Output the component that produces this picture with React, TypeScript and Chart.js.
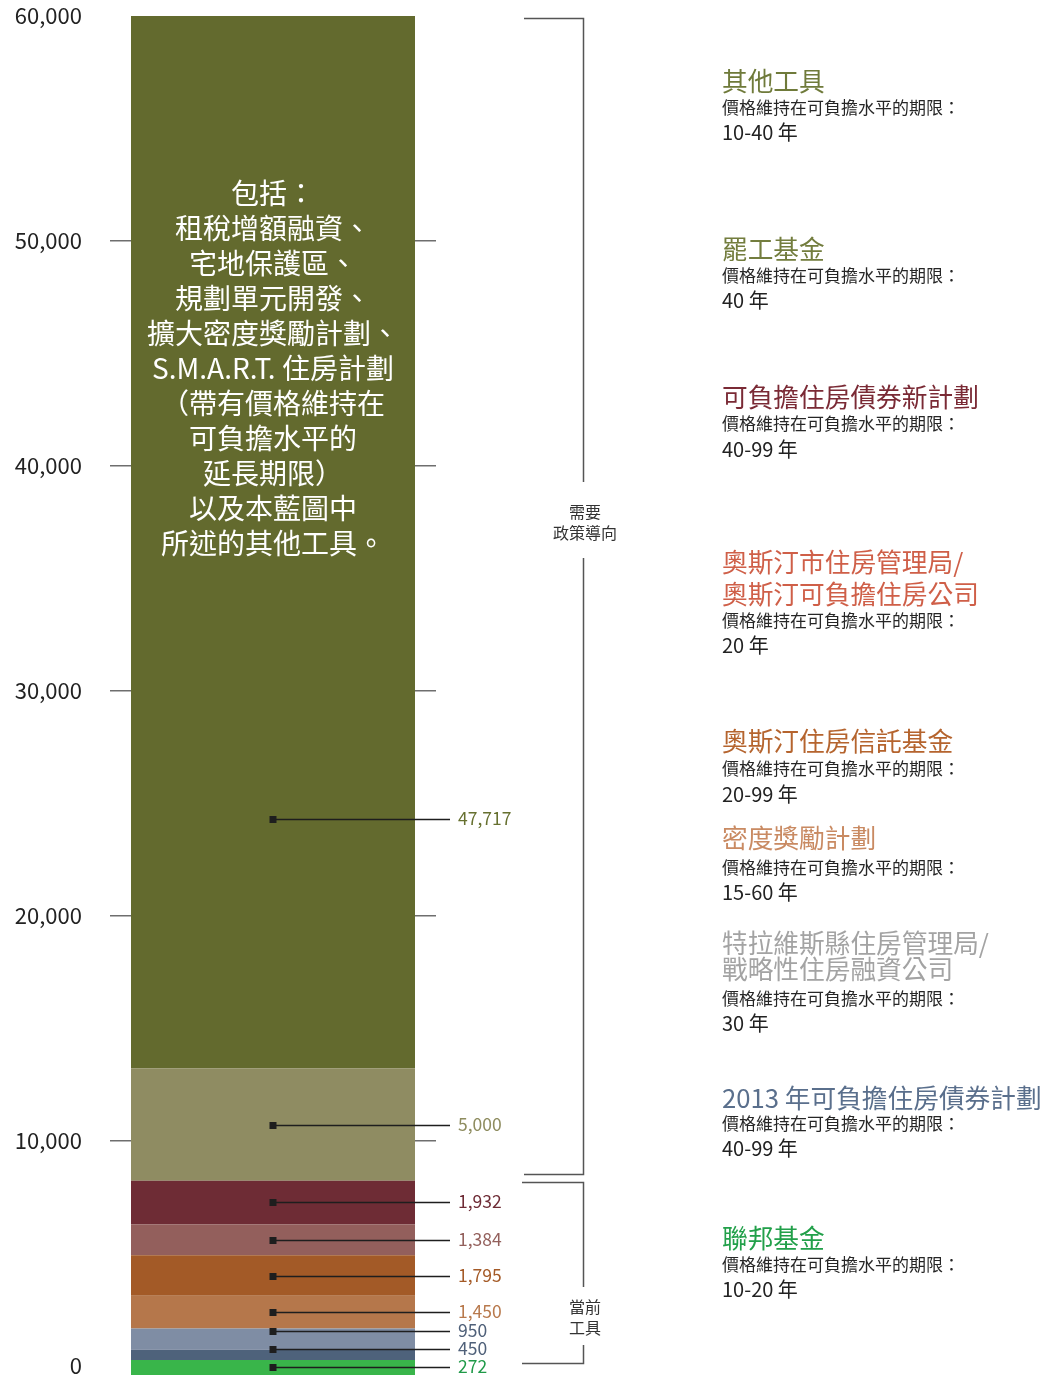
import React, { useEffect, useRef } from "react";
import { Chart, registerables } from "chart.js";

Chart.register(...registerables);

// ---------- data ----------
const SERIES_NAMES = [
  "聯邦基金",
  "2013 年可負擔住房債券計劃",
  "特拉維斯縣住房管理局/戰略性住房融資公司",
  "密度獎勵計劃",
  "奧斯汀住房信託基金",
  "奧斯汀市住房管理局/奧斯汀可負擔住房公司",
  "可負擔住房債券新計劃",
  "罷工基金",
  "其他工具",
];
const SERIES_VALUES = [272, 450, 950, 1450, 1795, 1384, 1932, 5000, 47717];
const CURRENT_TOOL_COUNT = 7; // bottom seven series are "current tools"
const Y_TICKS = [0, 10000, 20000, 30000, 40000, 50000, 60000];

const BAR_NOTE_LINES = [
  "包括：",
  "租稅增額融資、",
  "宅地保護區、",
  "規劃單元開發、",
  "擴大密度獎勵計劃、",
  "S.M.A.R.T. 住房計劃",
  "（帶有價格維持在",
  "可負擔水平的",
  "延長期限）",
  "以及本藍圖中",
  "所述的其他工具。",
];

const LEGEND_TITLES = [
  ["其他工具"],
  ["罷工基金"],
  ["可負擔住房債券新計劃"],
  ["奧斯汀市住房管理局/", "奧斯汀可負擔住房公司"],
  ["奧斯汀住房信託基金"],
  ["密度獎勵計劃"],
  ["特拉維斯縣住房管理局/", "戰略性住房融資公司"],
  ["2013 年可負擔住房債券計劃"],
  ["聯邦基金"],
];
const LEGEND_TERMS = ["10-40 年", "40 年", "40-99 年", "20 年", "20-99 年", "15-60 年", "30 年", "40-99 年", "10-20 年"];
const TERM_PREFIX = "價格維持在可負擔水平的期限：";
const BRACKET_LABELS = [["需要", "政策導向"], ["當前", "工具"]];

// ---------- styles / layout ----------
const FONT = "'Noto Sans CJK TC', 'Noto Sans', sans-serif";
const BAR_COLORS = ["#39b54a", "#4e627b", "#7f8da4", "#b5774b", "#a35a27", "#935f5c", "#6e2c35", "#8f8c62", "#636a2e"];
const LABEL_COLORS = ["#1f9a48", "#4f6079", "#4f6079", "#b8794c", "#a45a27", "#93605c", "#6e2b35", "#8e8c5f", "#66702f"];
const LEGEND_COLORS = ["#6f7a3a", "#737d3e", "#7a2a35", "#cf5f48", "#b5642e", "#c98a62", "#a3a3a3", "#5a6f8c", "#22a04a"];
const LEGEND_LAYOUT = [
  { t: [80], s: 107, y: 132 },
  { t: [248], s: 275, y: 300 },
  { t: [396], s: 423, y: 449 },
  { t: [561, 593], s: 620, y: 645 },
  { t: [740], s: 768, y: 794 },
  { t: [837], s: 867, y: 892 },
  { t: [942, 968], s: 998, y: 1023 },
  { t: [1097], s: 1123, y: 1148 },
  { t: [1237], s: 1264, y: 1289 },
];
const Y_MIN = -400;
const Y_MAX = 60000;
const BIG_LABEL_VALUE = 24300;
const LABEL_MIN_GAP = 18;
const BRACKET_LABEL_Y = [522, 1317];
const BRACKET_GAP = [[40, 36], [30, 28]];

const annotationPlugin = {
  id: "annotations",
  afterDatasetsDraw(chart: any) {
    const ctx = chart.ctx;
    const ys = chart.scales.y;
    const area = chart.chartArea;
    const n = SERIES_VALUES.length;
    const mids: number[] = [];
    let cx = 0;
    for (let i = 0; i < n; i++) {
      const el = chart.getDatasetMeta(i).data[0];
      cx = el.x;
      if (i === n - 1) mids.push(ys.getPixelForValue(BIG_LABEL_VALUE));
      else mids.push((el.y + el.base) / 2);
    }
    const pos: number[] = [];
    for (let i = 0; i < n; i++) {
      pos.push(i === 0 ? mids[i] : Math.min(mids[i], pos[i - 1] - LABEL_MIN_GAP));
    }
    ctx.save();
    for (let i = 0; i < n; i++) {
      const y = Math.round(pos[i]) + 0.5;
      ctx.strokeStyle = "#1e1e1e";
      ctx.lineWidth = 1.5;
      ctx.beginPath();
      ctx.moveTo(cx, y);
      ctx.lineTo(area.right + 14, y);
      ctx.stroke();
      ctx.fillStyle = "#1e1e1e";
      ctx.fillRect(cx - 3.5, y - 3.5, 7, 7);
      ctx.fillStyle = LABEL_COLORS[i];
      ctx.font = `17.5px ${FONT}`;
      ctx.textBaseline = "middle";
      ctx.textAlign = "left";
      ctx.fillText(SERIES_VALUES[i].toLocaleString("en-US"), area.right + 22, y - 1);
    }
    // brackets
    let cum = 0;
    for (let i = 0; i < CURRENT_TOOL_COUNT; i++) cum += SERIES_VALUES[i];
    const split = ys.getPixelForValue(cum);
    const x1 = area.right + 88;
    const x2 = area.right + 147.5;
    const brackets = [
      [area.top + 1.5, split - 6.5],
      [split + 1.5, ys.getPixelForValue(0) - 3.5],
    ];
    ctx.strokeStyle = "#555555";
    ctx.lineWidth = 1.5;
    brackets.forEach(([top, bot], k) => {
      const t = Math.round(top) + 0.5;
      const b = Math.round(bot) + 0.5;
      const ly = BRACKET_LABEL_Y[k];
      ctx.beginPath();
      ctx.moveTo(x1 - (k === 1 ? 2 : 0), t);
      ctx.lineTo(x2, t);
      ctx.lineTo(x2, ly - BRACKET_GAP[k][0]);
      ctx.moveTo(x2, ly + BRACKET_GAP[k][1]);
      ctx.lineTo(x2, b);
      ctx.lineTo(x1 - (k === 1 ? 2 : 0), b);
      ctx.stroke();
    });
    ctx.restore();
  },
};

export default function App() {
  const canvasRef = useRef<HTMLCanvasElement | null>(null);

  useEffect(() => {
    const canvas = canvasRef.current;
    if (!canvas) return;
    const chart = new Chart(canvas, {
      type: "bar",
      data: {
        labels: [""],
        datasets: SERIES_VALUES.map((v, i) => ({
          label: SERIES_NAMES[i],
          data: [v],
          backgroundColor: BAR_COLORS[i],
          borderWidth: 0,
          barPercentage: 284 / 326,
          categoryPercentage: 1,
          ...(i === 0 ? { base: Y_MIN } : {}),
        })),
      },
      options: {
        animation: false,
        responsive: false,
        maintainAspectRatio: false,
        layout: { padding: { left: 0, right: 610, top: 16, bottom: 0 } },
        plugins: { legend: { display: false }, tooltip: { enabled: false } },
        scales: {
          x: { stacked: true, display: false },
          y: {
            stacked: true,
            min: Y_MIN,
            max: Y_MAX,
            afterFit(s: any) {
              s.width = 110;
              s.paddingTop = 0;
              s.paddingBottom = 0;
            },
            afterBuildTicks(s: any) {
              s.ticks = Y_TICKS.map((v) => ({ value: v }));
            },
            border: { display: false },
            grid: {
              drawTicks: false,
              lineWidth: 1.5,
              color: (c: any) =>
                c.tick && (c.tick.value === 0 || c.tick.value === Y_MAX) ? "rgba(0,0,0,0)" : "#6e6e6e",
            },
            ticks: {
              padding: 28,
              color: "#222222",
              font: { family: FONT, size: 22 },
              callback: (v: any) => Number(v).toLocaleString("en-US"),
            },
          },
        },
      },
      plugins: [annotationPlugin],
    } as any);
    return () => chart.destroy();
  }, []);

  return (
    <div style={{ position: "absolute", left: 0, top: 0, width: 1046, height: 1375, fontFamily: FONT, background: "#fff", overflow: "hidden" }}>
      <canvas ref={canvasRef} width={1046} height={1375} style={{ display: "block", width: 1046, height: 1375 }} />
      {/* note inside the bar */}
      <div style={{ position: "absolute", left: 131, width: 284, top: 192 - 17.5, color: "#ffffff", fontSize: 28, lineHeight: "35px", textAlign: "center", whiteSpace: "nowrap" }}>
        {BAR_NOTE_LINES.map((l, i) => (
          <div key={i}>{l}</div>
        ))}
      </div>
      {/* bracket labels */}
      {BRACKET_LABELS.map((lines, k) => (
        <div key={k} style={{ position: "absolute", left: 535, width: 100, top: BRACKET_LABEL_Y[k] - 21, fontSize: 16, lineHeight: "21px", textAlign: "center", color: "#333" }}>
          {lines.map((l, i) => (
            <div key={i}>{l}</div>
          ))}
        </div>
      ))}
      {/* legend */}
      {LEGEND_TITLES.map((titles, i) => {
        const L = LEGEND_LAYOUT[i];
        return (
          <React.Fragment key={i}>
            {titles.map((t, j) => (
              <div key={j} style={{ position: "absolute", left: 722, top: L.t[j] - 16, height: 32, lineHeight: "32px", fontSize: 25.7, color: LEGEND_COLORS[i], whiteSpace: "nowrap" }}>
                {t}
              </div>
            ))}
            <div style={{ position: "absolute", left: 722, top: L.s - 12, lineHeight: "24px", fontSize: 17, color: "#262626", whiteSpace: "nowrap" }}>
              {TERM_PREFIX}
            </div>
            <div style={{ position: "absolute", left: 722, top: L.y - 13, lineHeight: "26px", fontSize: 20, color: "#222", whiteSpace: "nowrap" }}>
              {LEGEND_TERMS[i]}
            </div>
          </React.Fragment>
        );
      })}
    </div>
  );
}
